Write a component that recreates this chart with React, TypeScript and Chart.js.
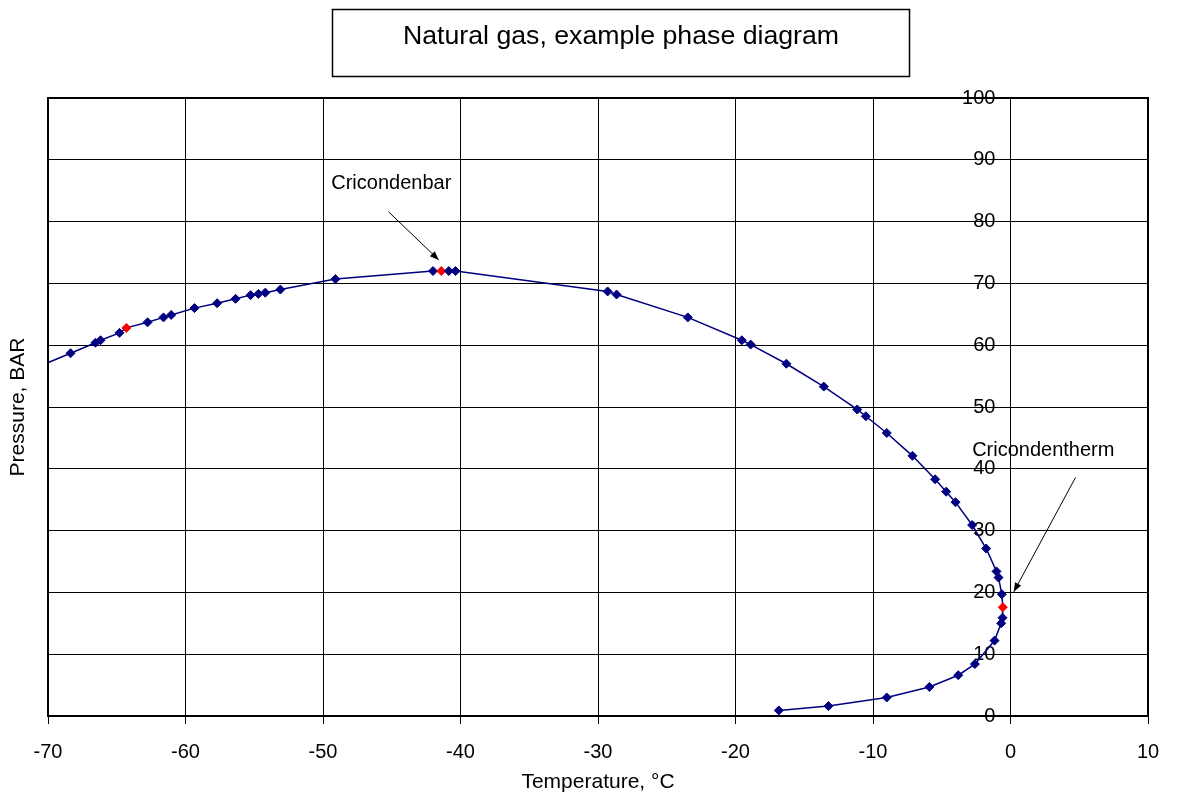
import React, { useEffect, useRef } from "react";
import { Chart, registerables } from "chart.js";

Chart.register(...registerables);

// Phase envelope points (temperature °C, pressure bar), in order along the curve
const temperatures = [
  -71.5, -68.36, -66.55, -66.18, -64.8, -64.3, -62.76, -61.6, -61.04, -59.35,
  -57.7, -56.36, -55.27, -54.7, -54.2, -53.1, -49.1, -42.0, -41.4, -40.85,
  -40.36, -29.3, -28.65, -23.47, -19.54, -18.9, -16.3, -13.58, -11.15, -10.52,
  -9.0, -7.13, -5.48, -4.68, -4.0, -2.79, -1.77, -1.02, -0.87, -0.63,
  -0.56, -0.58, -0.68, -1.16, -2.59, -3.8, -5.9, -9.0, -13.24, -16.85,
];
const pressures = [
  55.8, 58.7, 60.4, 60.8, 62.0, 62.8, 63.7, 64.5, 64.9, 66.0,
  66.8, 67.5, 68.1, 68.3, 68.5, 69.0, 70.7, 72.0, 72.0, 72.0,
  72.0, 68.7, 68.2, 64.5, 60.8, 60.1, 57.0, 53.3, 49.6, 48.5,
  45.8, 42.1, 38.3, 36.3, 34.6, 30.9, 27.1, 23.4, 22.4, 19.7,
  17.6, 15.9, 15.0, 12.2, 8.4, 6.6, 4.7, 3.0, 1.6, 0.9,
];
// indices of highlighted (red) points
const highlightedIndices = [5, 18, 40];

const xTicks = [-70, -60, -50, -40, -30, -20, -10, 0, 10];
const yTicks = [0, 10, 20, 30, 40, 50, 60, 70, 80, 90, 100];

const titleText = "Natural gas, example phase diagram";
const xTitle = "Temperature, °C";
const yTitle = "Pressure, BAR";

// annotations in data coordinates
const annotations = [
  { label: "Cricondenbar", textX: -49.4, textY: 85.2, fromX: -45.24, fromY: 81.6, toX: -41.58, toY: 73.8 },
  { label: "Cricondentherm", textX: -2.79, textY: 42.1, fromX: 4.73, fromY: 38.6, toX: 0.24, toY: 20.1 },
];

const FONT = "'Liberation Sans', Arial, Helvetica, sans-serif";

const decorPlugin = {
  id: "decor",
  afterDatasetsDraw(chart: any) {
    const { ctx, chartArea, scales } = chart;
    const xs = scales.x;
    const ys = scales.y;
    ctx.save();
    // plot border
    ctx.strokeStyle = "#000";
    ctx.lineWidth = 2;
    ctx.strokeRect(chartArea.left, chartArea.top, chartArea.right - chartArea.left, chartArea.bottom - chartArea.top);

    // annotations
    ctx.font = `20px ${FONT}`;
    ctx.fillStyle = "#000";
    ctx.textAlign = "left";
    ctx.textBaseline = "alphabetic";
    for (const a of annotations) {
      ctx.fillText(a.label, xs.getPixelForValue(a.textX), ys.getPixelForValue(a.textY));
      const x1 = xs.getPixelForValue(a.fromX);
      const y1 = ys.getPixelForValue(a.fromY);
      const x2 = xs.getPixelForValue(a.toX);
      const y2 = ys.getPixelForValue(a.toY);
      ctx.lineWidth = 1;
      ctx.beginPath();
      ctx.moveTo(x1, y1);
      ctx.lineTo(x2, y2);
      ctx.stroke();
      const ang = Math.atan2(y2 - y1, x2 - x1);
      const L = 9;
      const W = 3.5;
      ctx.beginPath();
      ctx.moveTo(x2, y2);
      ctx.lineTo(x2 - L * Math.cos(ang) + W * Math.sin(ang), y2 - L * Math.sin(ang) - W * Math.cos(ang));
      ctx.lineTo(x2 - L * Math.cos(ang) - W * Math.sin(ang), y2 - L * Math.sin(ang) + W * Math.cos(ang));
      ctx.closePath();
      ctx.fill();
    }

    // title box and title
    ctx.lineWidth = 1.5;
    ctx.strokeRect(332.5, 9.5, 577, 67);
    ctx.font = `26.7px ${FONT}`;
    ctx.textAlign = "center";
    ctx.textBaseline = "alphabetic";
    ctx.fillText(titleText, 621, 44);
    ctx.restore();
  },
};

export default function App() {
  const canvasRef = useRef<HTMLCanvasElement | null>(null);

  useEffect(() => {
    if (!canvasRef.current) return;
    const points = temperatures.map((t, i) => ({ x: t, y: pressures[i] }));
    const colorFor = (ctx: any) =>
      highlightedIndices.includes(ctx.dataIndex) ? "#ff0000" : "#000080";
    const chart = new Chart(canvasRef.current, {
      type: "scatter",
      data: {
        datasets: [
          {
            data: points,
            showLine: true,
            borderColor: "#000080",
            borderWidth: 1.5,
            tension: 0,
            pointStyle: "rectRot",
            pointRadius: 4.5,
            pointHoverRadius: 4.5,
            pointBorderWidth: 1,
            pointBackgroundColor: colorFor,
            pointBorderColor: colorFor,
          },
        ],
      },
      options: {
        animation: false,
        responsive: true,
        maintainAspectRatio: false,
        events: [],
        layout: { padding: { left: 0, right: 30, top: 98, bottom: 0 } },
        plugins: {
          legend: { display: false },
          tooltip: { enabled: false },
          title: { display: false },
        },
        scales: {
          x: {
            type: "linear",
            min: -70,
            max: 10,
            afterBuildTicks: (scale: any) => {
              scale.ticks = xTicks.map((v) => ({ value: v }));
            },
            afterFit: (scale: any) => {
              scale.height = 85;
            },
            grid: { color: "#000", lineWidth: 1, tickLength: 8, drawTicks: true },
            border: { display: false },
            ticks: {
              color: "#000",
              font: { family: FONT, size: 20 },
              padding: 16,
              maxRotation: 0,
            },
            title: {
              display: true,
              text: xTitle,
              color: "#000",
              font: { family: FONT, size: 21 },
              padding: { top: 0, bottom: 6 },
            },
          },
          y: {
            type: "linear",
            position: { x: 0 },
            min: 0,
            max: 100,
            afterBuildTicks: (scale: any) => {
              scale.ticks = yTicks.map((v) => ({ value: v }));
            },
            grid: { color: "#000", lineWidth: 1, tickLength: 5, drawTicks: true },
            border: { display: true, color: "#000", width: 1 },
            ticks: {
              color: "#000",
              font: { family: FONT, size: 20 },
              // labels sit right-aligned on the crossing axis; trailing gap keeps them off the tick marks
              callback: (value: any) => `${value}  \u2009`,
            },
          },
          yTitleAxis: {
            type: "linear",
            position: "left",
            min: 0,
            max: 100,
            afterFit: (scale: any) => {
              scale.width = 48;
            },
            grid: { display: false },
            border: { display: false },
            ticks: { display: false },
            title: {
              display: true,
              text: yTitle,
              color: "#000",
              font: { family: FONT, size: 21 },
              padding: { top: 6, bottom: 0 },
            },
          },
        },
      },
      plugins: [decorPlugin],
    } as any);
    return () => chart.destroy();
  }, []);

  return (
    <div style={{ position: "absolute", left: 0, top: 0, width: 1178, height: 801, background: "#fff" }}>
      <canvas ref={canvasRef} />
    </div>
  );
}
